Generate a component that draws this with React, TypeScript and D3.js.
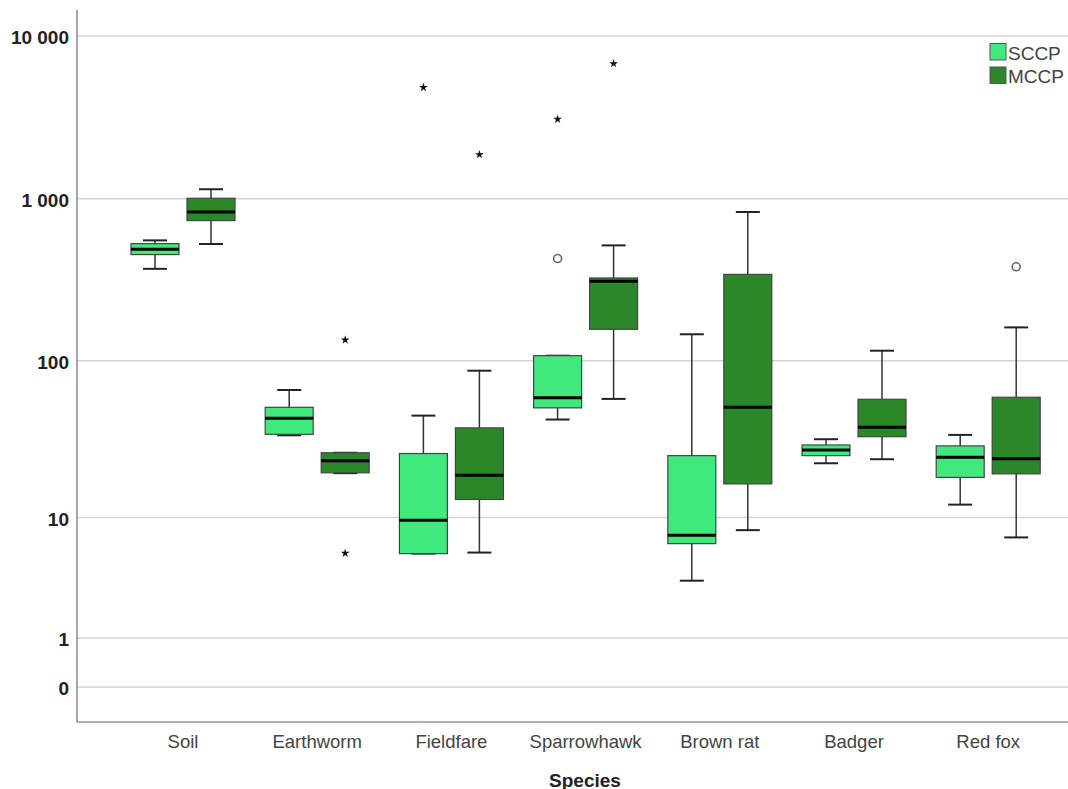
import React from "react";
import * as d3 from "d3";

const categories = ["Soil", "Earthworm", "Fieldfare", "Sparrowhawk", "Brown rat", "Badger", "Red fox"];
const seriesNames = ["SCCP", "MCCP"];
// [lower whisker, Q1, median, Q3, upper whisker]
const sccpStats: number[][] = [
  [370, 453, 489, 529, 554],
  [34.2, 34.7, 43.8, 51.3, 65.8],
  [5.6, 5.6, 9.6, 26.2, 45.5],
  [43, 50.9, 58.8, 107.6, 107.6],
  [3.5, 6.6, 7.55, 25.4, 146],
  [22.7, 25.4, 27.6, 29.7, 32.3],
  [12.2, 18.4, 24.8, 29.3, 34.4],
];
const mccpStats: number[][] = [
  [526, 733, 828, 1006, 1143],
  [19.6, 19.7, 23.6, 26.5, 26.5],
  [5.7, 13.2, 19, 38.1, 86.8],
  [57.9, 156.7, 310, 325, 516],
  [8.2, 16.7, 51.3, 342, 828],
  [24.1, 33.5, 38.4, 57.6, 115.5],
  [7.3, 19.4, 24.3, 59.3, 161],
];
// outliers: [category index, series index, value, kind]
const outliers: [number, number, number, string][] = [
  [2, 0, 4827, "extreme"],
  [3, 0, 428, "outlier"],
  [3, 0, 3077, "extreme"],
  [1, 1, 134.6, "extreme"],
  [1, 1, 5.63, "extreme"],
  [2, 1, 1867, "extreme"],
  [3, 1, 6767, "extreme"],
  [6, 1, 381, "outlier"],
];
const yTicks = [0, 1, 10, 100, 1000, 10000];
const colors = ["#41e97c", "#2a872a"];

export default function App() {
  const W = 1068, H = 789;
  const left = 77, right = 1068, top = 10, bottom = 722;
  const y = d3.scaleSymlog().constant(1).domain([0, 10000]).range([687, 36]);
  const x = d3.scalePoint<string>().domain(categories).range([183, 988.2]);
  const boxW = 48, off = 28, capW = 24;
  const allStats = [sccpStats, mccpStats];
  const fmt = (v: number) => d3.format(",")(v).replace(/,/g, " ");
  const star = d3.symbol().type(d3.symbolStar).size(24)() as string;

  return (
    <svg width={W} height={H} style={{ position: "absolute", left: 0, top: 0, background: "#fff" }}
      fontFamily="'Liberation Sans', Arial, sans-serif">
      {yTicks.map((t) => (
        <g key={t}>
          <line x1={left} x2={right} y1={y(t)} y2={y(t)} stroke="#d4d4d4" strokeWidth={1.5} />
          <text x={69} y={y(t) + 8} textAnchor="end" fontSize={19} fontWeight="bold" fill="#222">{fmt(t)}</text>
        </g>
      ))}
      <line x1={left} x2={left} y1={top} y2={bottom} stroke="#888" strokeWidth={1.5} />
      <line x1={left} x2={right} y1={bottom} y2={bottom} stroke="#999" strokeWidth={1.5} />
      {categories.map((c, i) => (
        <g key={c}>
          {allStats.map((st, s) => {
            const [lo, q1, md, q3, hi] = st[i];
            const cx = (x(c) as number) + (s === 0 ? -off : off);
            return (
              <g key={s}>
                <line x1={cx} x2={cx} y1={y(hi)} y2={y(q3)} stroke="#333" strokeWidth={1.5} />
                <line x1={cx} x2={cx} y1={y(q1)} y2={y(lo)} stroke="#333" strokeWidth={1.5} />
                <line x1={cx - capW / 2} x2={cx + capW / 2} y1={y(hi)} y2={y(hi)} stroke="#222" strokeWidth={2} />
                <line x1={cx - capW / 2} x2={cx + capW / 2} y1={y(lo)} y2={y(lo)} stroke="#222" strokeWidth={2} />
                <rect x={cx - boxW / 2} y={y(q3)} width={boxW} height={Math.max(0.5, y(q1) - y(q3))}
                  fill={colors[s]} stroke="#444" strokeWidth={1.2} />
                <line x1={cx - boxW / 2} x2={cx + boxW / 2} y1={y(md)} y2={y(md)} stroke="#000" strokeWidth={3} />
              </g>
            );
          })}
          <text x={x(c)} y={748} textAnchor="middle" fontSize={18.5} fill="#444">{c}</text>
        </g>
      ))}
      {outliers.map(([ci, s, v, kind], k) => {
        const cx = (x(categories[ci]) as number) + (s === 0 ? -off : off);
        return kind === "extreme" ? (
          <path key={k} d={star} transform={`translate(${cx},${y(v)})`} fill="#111" />
        ) : (
          <circle key={k} cx={cx} cy={y(v)} r={4} fill="none" stroke="#666" strokeWidth={1.6} />
        );
      })}
      {seriesNames.map((n, i) => (
        <g key={n}>
          <rect x={990} y={43.5 + i * 23.5} width={16} height={16.5} fill={colors[i]} stroke="#555" strokeWidth={1} />
          <text x={1008} y={59.5 + i * 23.5} fontSize={19} fill="#444">{n}</text>
        </g>
      ))}
      <text x={585} y={786.5} textAnchor="middle" fontSize={19} fontWeight="bold" fill="#222">Species</text>
    </svg>
  );
}
